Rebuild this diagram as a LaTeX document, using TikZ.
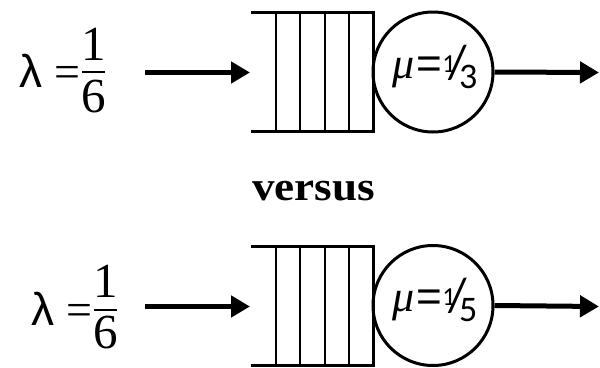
\documentclass[tikz,border=0pt]{standalone}
\usepackage{fontspec}
\setmainfont{Liberation Serif}
\newfontfamily\lamfont{Liberation Sans}
\newfontfamily\digfont{Carlito}
\usetikzlibrary{arrows.meta}
\newcommand{\murate}[1]{{\itshape\fontsize{44}{44}\selectfont μ}\kern2pt{\lamfont\fontsize{44}{44}\selectfont=}\kern0pt\raisebox{6pt}{\digfont\fontsize{26}{26}\selectfont 1}\kern-7pt{\digfont\fontsize{48}{48}\selectfont /}\kern-8pt\raisebox{-10pt}{\digfont\fontsize{36}{36}\selectfont #1}}
\begin{document}
\begin{tikzpicture}[x=1pt,y=-1pt,
  arr/.style={line width=5pt,-{Triangle[length=19pt,width=21pt]}},
  qline/.style={line width=3pt},
  qsep/.style={line width=1.8pt},
  srv/.style={circle,draw,line width=3pt,minimum size=120pt,inner sep=0pt},
  lam/.style={font=\lamfont\fontsize{46}{46}\selectfont,anchor=base west,inner sep=0pt},
  dig/.style={font=\fontsize{49}{49}\selectfont,anchor=base,inner sep=0pt},
  mutext/.style={anchor=base,inner sep=0pt},
  vs/.style={font=\bfseries\fontsize{41}{41}\selectfont,anchor=base,inner sep=0pt}]
\useasboundingbox (0,0) rectangle (600,367);
% ---------- top row ----------
\node[lam] (l1) at (19,87) {λ {\rmfamily=}};
\node[dig] (n1) at (93.5,60) {1};
\node[dig] (d1) at (93.5,112) {6};
\draw[line width=2.5pt] (82,72) -- (105,72);
\coordinate (a1) at (145,72.5);
\coordinate (q1) at (250,72.5);
\draw[arr] (a1) -- (q1);
\draw[qline] (251,12) -- (373,12) -- (373,131) -- (251,131);
\foreach \x in {276,300,325,349} \draw[qsep] (\x,12) -- (\x,131);
\node[srv] (s1) at (433,72) {};
\node[mutext] (m1) at (435,78) {\murate{3}};
\coordinate (o1) at (599,72.5);
\draw[arr] (s1.east) -- (o1);
% ---------- versus ----------
\node[vs] (v) at (313.5,200) {\scalebox{1.1}[1]{versus}};
% ---------- bottom row ----------
\node[lam] (l2) at (31,325) {λ {\rmfamily=}};
\node[dig] (n2) at (105.5,297) {1};
\node[dig] (d2) at (105.5,348) {6};
\draw[line width=2.5pt] (94,310) -- (117,310);
\coordinate (a2) at (145,306.5);
\coordinate (q2) at (250,306.5);
\draw[arr] (a2) -- (q2);
\draw[qline] (251,246) -- (373,246) -- (373,365) -- (251,365);
\foreach \x in {276,300,325,349} \draw[qsep] (\x,246) -- (\x,365);
\node[srv] (s2) at (433,305.5) {};
\node[mutext] (m2) at (435,311) {\murate{5}};
\coordinate (o2) at (599,306.5);
\draw[arr] (s2.east) -- (o2);
\end{tikzpicture}
\end{document}
